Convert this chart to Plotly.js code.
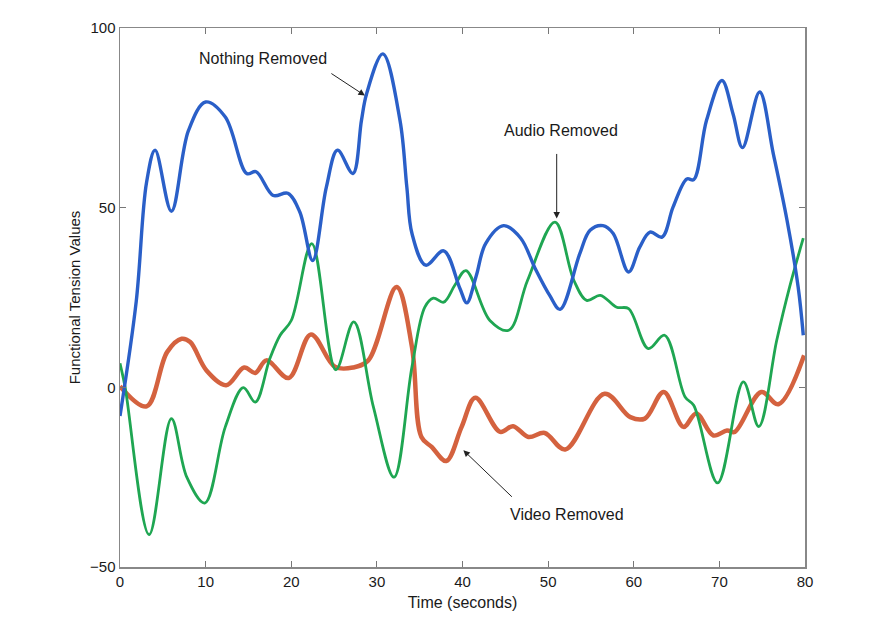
<!DOCTYPE html>
<html><head><meta charset="utf-8">
<script src="https://cdn.plot.ly/plotly-3.0.1.min.js"></script>
<style>html,body{margin:0;padding:0;background:#fff}#c{width:880px;height:634px}</style>
</head><body><div id="c"></div>
<script>
const nothingX = [0, 1.9, 3.1, 4.1, 6.0, 8.0, 10.0, 12.3, 14.8, 15.9, 17.9, 19.6, 21.0, 22.5, 24.1, 25.4, 27.2, 28.2, 28.8, 30.7, 32.7, 33.5, 34.1, 35.7, 37.8, 39.7, 40.5, 41.6, 42.7, 44.8, 46.8, 48.5, 50.2, 51.4, 53.7, 54.9, 56.4, 57.6, 59.4, 60.7, 61.9, 63.3, 64.6, 66.2, 67.0, 68.5, 70.3, 71.6, 72.7, 74.7, 76.3, 77.9, 79.2, 79.8];
const nothingY = [-8, 24, 57, 66, 49, 71.5, 79.4, 75.2, 59.5, 60, 53.4, 54, 48.8, 35.3, 55.7, 66, 59.5, 74.3, 81.7, 92.8, 74.3, 55.7, 42.8, 34, 38, 27.5, 23.5, 31, 40, 45, 41.5, 33, 25.5, 21.7, 37.2, 43.7, 45, 42.8, 32.1, 39, 43.2, 41.8, 50.2, 58, 57.8, 74.3, 85.4, 76.1, 66.7, 82.2, 65, 46.5, 27.9, 14.5];

const audioX = [0, 0.6, 3.4, 6.0, 7.8, 9.9, 12.3, 14.4, 15.8, 17.5, 18.7, 20.0, 22.4, 25.2, 27.3, 29.6, 32.0, 34.1, 35.6, 36.6, 37.8, 39.1, 40.4, 43.2, 45.4, 47.6, 50.8, 53.0, 54.5, 56.1, 58.0, 59.4, 61.7, 63.6, 66.0, 67.0, 69.8, 72.8, 74.6, 76.7, 78.2, 79.8];
const audioY = [6.7, 0, -41, -8.7, -25, -32.2, -11, -0.1, -4.1, 8, 14.5, 18.6, 40, 4.9, 18.2, -5.5, -25, 5.7, 22.3, 24.8, 23.7, 28.4, 32.5, 18.6, 15.9, 29.8, 46, 29.8, 24.2, 25.6, 22.3, 21.9, 10.8, 14.5, -2.7, -5, -26.6, 1.5, -10.9, 13.1, 27.9, 41.5];

const videoX = [0, 3.1, 5.5, 7.2, 8.2, 10.1, 12.4, 14.5, 15.8, 17.1, 19.7, 22.3, 25.1, 27.2, 29.0, 32.3, 34.1, 35.2, 36.4, 38.1, 39.9, 41.5, 44.4, 45.9, 47.7, 49.6, 52.0, 56.6, 59.6, 61.3, 63.5, 65.8, 67.3, 69.3, 70.9, 71.8, 74.9, 76.9, 79.9];
const videoY = [0.3, -5.3, 9.8, 13.5, 12.6, 4.7, 0.6, 5.5, 4, 7.5, 2.6, 14.7, 5.7, 5.5, 7.5, 27.9, 11.2, -13.8, -16.6, -20.5, -11, -2.9, -12.4, -10.8, -13.8, -12.7, -17.3, -1.8, -8.3, -8.7, -1.3, -11, -7.3, -13.4, -12, -12.4, -1.3, -4.7, 8.9];

const xTicks = [0, 10, 20, 30, 40, 50, 60, 70, 80];
const yTicks = [-50, 0, 50, 100];

const font = {family: 'Liberation Sans, Arial, sans-serif', size: 15, color: '#1a1a1a'};
const bigFont = {family: 'Liberation Sans, Arial, sans-serif', size: 16, color: '#1a1a1a'};

const traces = [
  {x: videoX, y: videoY, mode: 'lines', name: 'Video Removed',
   line: {color: '#d4623f', width: 4.5, shape: 'spline', smoothing: 1}},
  {x: audioX, y: audioY, mode: 'lines', name: 'Audio Removed',
   line: {color: '#1fa652', width: 2.8, shape: 'spline', smoothing: 1}},
  {x: nothingX, y: nothingY, mode: 'lines', name: 'Nothing Removed',
   line: {color: '#2a5fc8', width: 3.4, shape: 'spline', smoothing: 1}}
];

const axisCommon = {showgrid: false, zeroline: false, showline: true, mirror: 'ticks',
  linecolor: '#888', linewidth: 1.5, ticks: 'inside', ticklen: 6, tickcolor: '#777',
  tickfont: font};

const layout = {
  width: 880, height: 634,
  margin: {l: 120, r: 75, t: 28, b: 67},
  paper_bgcolor: '#fff', plot_bgcolor: '#fff',
  showlegend: false,
  font: font,
  xaxis: Object.assign({}, axisCommon, {range: [0, 80], tickvals: xTicks,
    title: {text: 'Time (seconds)', font: bigFont, standoff: 8}}),
  yaxis: Object.assign({}, axisCommon, {range: [-50, 100], tickvals: yTicks,
    title: {text: 'Functional Tension Values', font: font, standoff: 6}}),
  annotations: [
    {x: 28.6, y: 81.2, xref: 'x', yref: 'y', ax: -35, ay: -23, text: '', showarrow: true,
     arrowhead: 2, arrowsize: 1.3, arrowwidth: 1, arrowcolor: '#222'},
    {x: 16.7, y: 91.5, xref: 'x', yref: 'y', text: 'Nothing Removed', showarrow: false, font: bigFont},
    {x: 51.0, y: 47, xref: 'x', yref: 'y', ax: 0, ay: -66, text: '', showarrow: true,
     arrowhead: 2, arrowsize: 1.3, arrowwidth: 1, arrowcolor: '#222'},
    {x: 51.5, y: 71.5, xref: 'x', yref: 'y', text: 'Audio Removed', showarrow: false, font: bigFont},
    {x: 40.1, y: -17.5, xref: 'x', yref: 'y', ax: 50, ay: 48, text: '', showarrow: true,
     arrowhead: 2, arrowsize: 1.3, arrowwidth: 1, arrowcolor: '#222'},
    {x: 52.2, y: -35.3, xref: 'x', yref: 'y', text: 'Video Removed', showarrow: false, font: bigFont}
  ]
};

Plotly.newPlot('c', traces, layout, {displayModeBar: false, staticPlot: true});
</script></body></html>
